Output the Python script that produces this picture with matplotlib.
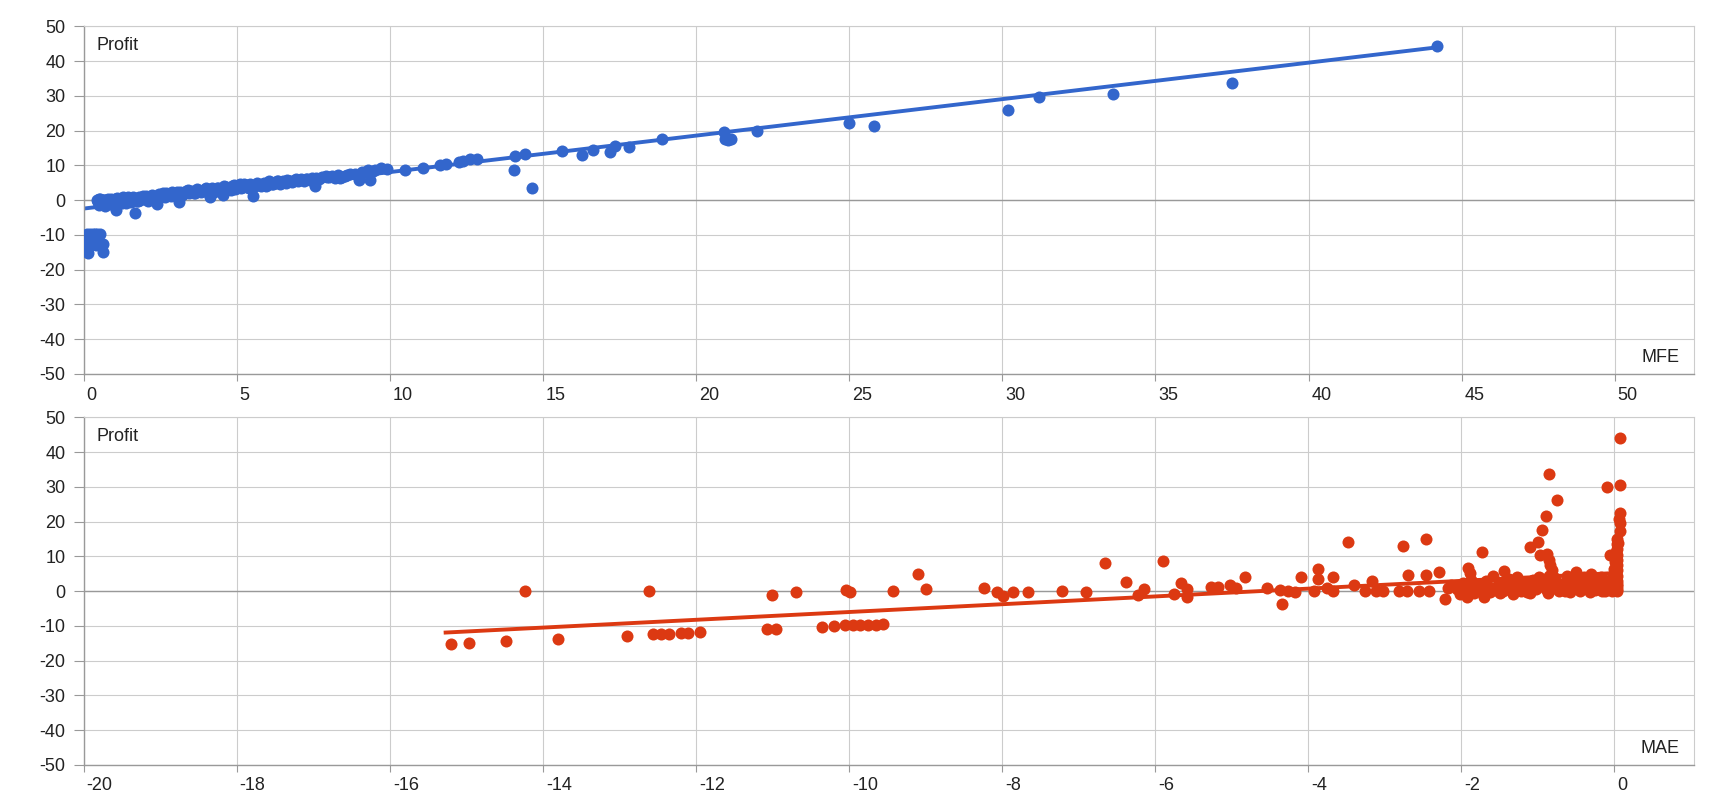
import matplotlib
matplotlib.use("Agg")
import matplotlib.pyplot as plt
from matplotlib import transforms

plt.rcParams['font.family'] = ['Liberation Sans', 'DejaVu Sans']
plt.rcParams['axes.unicode_minus'] = False

# MFE vs Profit (top chart)
mfe = [0.10, 0.10, 0.12, 0.10, 0.12, 0.15, 0.12, 0.15, 0.22, 0.30, 0.38, 0.45, 0.52, 0.25, 0.35,
       0.40, 0.55, 0.62, 0.65, 0.28,
       0.45, 0.48, 0.50, 0.52, 0.55, 0.60, 0.62, 0.65, 0.70, 0.72, 0.75, 0.80, 0.85, 0.88, 0.90,
       0.95, 1.00, 1.02, 1.05, 1.10, 1.15, 1.20, 1.25, 1.30, 1.35, 1.40, 1.45, 1.50, 1.55, 1.60,
       1.68, 1.70, 1.75, 1.80, 1.85, 1.90, 2.00, 2.05, 2.10, 2.20, 2.30, 2.39, 2.45, 2.50, 2.60,
       2.65, 2.70, 2.80, 2.90, 3.00, 3.12, 3.15, 3.25, 3.35, 3.45, 3.55, 3.65, 3.75, 3.85, 3.95,
       4.05, 4.13, 4.20, 4.30, 4.40, 4.50, 4.56, 4.65, 4.75, 4.85, 4.95, 5.05, 5.15, 5.25, 5.35,
       5.45, 5.53, 5.60, 5.70, 5.80, 5.90, 6.00, 6.10, 6.20, 6.30, 6.40, 6.50, 6.60, 6.70, 6.80,
       6.90, 7.00, 7.10, 7.20, 7.30, 7.40, 7.57, 7.60, 7.80, 7.95, 8.10, 8.20, 8.38, 8.55, 8.70,
       9.00, 9.10, 9.30, 9.36, 9.50, 9.70, 9.90, 10.48, 11.07, 11.65, 11.84, 12.25, 12.40, 12.63,
       12.85, 14.05, 14.10, 14.43, 14.65, 15.63, 16.28, 16.64, 17.20, 17.35, 17.80, 18.90, 20.90,
       20.95, 21.05, 21.15, 22.00, 25.00, 25.80, 30.20, 31.20, 33.60, 37.50, 44.20]
mfe_profit = [-9.6, -10.4, -11.2, -12.0, -12.8, -13.6, -14.4, -15.1, -9.8, -9.6, -9.7, -9.8, -9.6, -11.0, -12.2,
              -13.0, -12.3, -12.6, -14.9, -10.2,
              0.2, -0.6, -1.4, 0.3, -0.3, -1.0, 0.2, -0.5, -1.6, 0.1, -0.8, 0.4, -1.2, -0.2, 0.5,
              -0.6, -1.3, 0.3, -2.8, 0.6, -0.4, 0.4, -0.9, 0.8, 0.0, -0.7, 0.9, 0.2, -0.5, 0.9,
              -3.8, 0.4, -0.3, 1.0, 0.2, 0.8, 0.4, 1.3, -0.2, 1.2, 0.4, -1.1, 1.8, 0.8, 2.0,
              1.0, 2.2, 1.5, 2.3, 1.2, -0.4, 2.5, 1.8, 2.6, 2.0, 2.8, 2.2, 3.0, 2.4, 3.2,
              2.6, 0.9, 3.4, 2.8, 3.6, 3.0, 1.5, 3.8, 3.3, 4.0, 3.2, 4.2, 3.6, 4.6, 3.8,
              4.8, 1.3, 4.0, 4.7, 4.2, 5.0, 4.4, 5.2, 4.6, 5.4, 4.8, 5.6, 5.0, 5.6, 5.2,
              5.9, 5.4, 6.0, 5.6, 6.1, 5.8, 4.0, 6.4, 6.8, 6.6, 6.9, 6.5, 6.3, 7.0, 7.6,
              5.7, 8.0, 8.6, 5.7, 8.8, 9.4, 8.9, 8.8, 9.2, 10.0, 10.5, 10.9, 11.4, 11.8,
              11.8, 8.6, 12.8, 13.3, 3.6, 14.2, 13.0, 14.5, 14.0, 15.5, 15.2, 17.6, 19.5,
              17.5, 17.3, 17.6, 20.0, 22.3, 21.5, 26.0, 29.8, 30.5, 33.8, 44.3]
# extra points filling the dense band at small MFE
mfe_band = [0.50, 0.58, 0.68, 0.78, 0.92, 1.08, 1.18, 1.28, 1.38, 1.48, 1.58, 1.78, 1.95, 2.15,
            2.25, 2.35, 2.55, 2.75, 2.85, 2.95, 3.05, 3.20, 3.30, 3.40, 3.50, 3.60, 3.70, 3.80,
            3.90, 4.00, 4.10, 4.25, 4.35, 4.45, 4.60, 4.70, 4.80, 4.90, 5.00, 5.10, 5.20, 5.30,
            5.40, 5.50, 5.65, 5.75, 5.85, 5.95, 6.05, 6.15, 6.25, 6.35, 6.45, 6.55, 6.65, 6.75,
            6.85, 6.95, 7.05, 7.25, 7.45, 7.70, 7.90, 8.00, 8.30, 8.45, 8.60, 8.85, 9.20, 9.45]
mfe_band_profit = [0.5, -1.0, 0.0, -0.4, -1.0, 0.2, -0.6, 0.1, 0.5, -0.2, 0.6, -0.1, 1.1, 0.5,
                   1.6, 1.0, 1.4, 1.8, 1.2, 2.0, 2.4, 1.6, 2.2, 2.9, 2.4, 2.0, 3.2, 2.6,
                   2.8, 3.4, 3.0, 2.4, 3.6, 3.3, 4.0, 3.6, 3.0, 4.3, 3.5, 4.6, 3.9, 4.4,
                   3.6, 4.2, 5.0, 4.4, 4.8, 4.2, 5.4, 4.8, 5.1, 5.6, 5.0, 5.3, 5.8, 5.4,
                   5.6, 6.1, 5.7, 6.2, 6.4, 6.2, 7.0, 6.7, 7.2, 6.8, 7.3, 7.5, 8.2, 8.5]
mfe_trend_x = [0.0, 44.2]
mfe_trend_y = [-2.4, 44.0]

# MAE vs Profit (bottom chart)
mae = [-15.20, -14.96, -14.48, -14.23, -13.80, -12.90, -12.61, -12.56, -12.45, -12.35, -12.20, -12.10,
       -11.95, -11.07, -10.95, -11.00, -10.69, -10.35, -10.20, -10.04, -9.99, -10.05, -9.95, -9.85,
       -9.75, -9.65, -9.55, -9.43, -9.10, -9.00,
       -8.23, -8.06, -7.99, -7.86, -7.66, -7.22, -6.90, -6.66, -6.38, -6.23, -6.14, -5.90, -5.76,
       -5.66, -5.59, -5.59, -5.27, -5.18, -5.02, -4.94, -4.82, -4.54, -4.37, -4.34, -4.26, -4.17,
       -4.09, -3.93, -3.87, -3.87, -3.76, -3.67, -3.67, -3.48, -3.40, -3.26, -3.17, -3.12, -3.02,
       -2.76, -2.82, -2.71, -2.70, -2.55, -2.42, -2.46, -2.46, -2.29, -2.21, -2.13, -2.05, -1.98,
       -1.91, -1.88, -1.92, -1.92, -1.85, -1.80, -1.73, -1.70, -1.64, -1.58, -1.55, -1.50, -1.47,
       -1.44, -1.40, -1.36, -1.30, -1.27, -1.22, -1.18, -1.12, -1.10, -1.10, -1.00, -0.95, -0.90,
       -0.85, -0.75, -0.97, -0.88, -0.86, -0.84, -0.82, -0.85, -0.80, -0.95, -0.90, -0.78, -0.70,
       -0.65, -0.60, -0.55, -0.50, -0.48, -0.45, -0.40, -0.35, -0.30, -0.25, -0.22, -0.18, -0.15,
       -0.12, -0.09, -0.06, -0.05, 0.07, 0.07, 0.07, 0.07, 0.07, 0.03, 0.04, 0.04, 0.04, 0.04,
       0.04, 0.04, 0.04, 0.04, 0.04, 0.04, 0.03, 0.03]
mae_profit = [-15.2, -14.8, -14.3, 0.2, -13.7, -12.9, 0.2, -12.4, -12.3, -12.2, -12.0, -11.9,
              -11.8, -10.9, -10.9, -1.0, -0.1, -10.2, -10.0, 0.3, -0.1, -9.7, -9.7, -9.7,
              -9.6, -9.6, -9.5, 0.1, 5.0, 0.7,
              0.9, -0.1, -1.5, -0.3, -0.3, 0.2, -0.1, 8.2, 2.6, -1.1, 0.6, 8.8, -0.8,
              2.3, 0.7, -1.7, 1.2, 1.3, 1.8, 0.8, 4.2, 0.8, 0.4, -3.7, 0.2, -0.3,
              4.0, 0.0, 6.3, 3.5, 0.8, 4.2, 0.0, 14.3, 1.8, 0.2, 2.8, 0.2, 0.0,
              13.1, 0.2, 0.2, 4.7, 0.0, 0.2, 15.1, 4.8, 5.5, -2.2, 1.7, 0.5, 2.5,
              6.6, 5.2, 1.2, -1.7, 0.0, 2.0, 11.2, -1.7, 1.2, 4.5, 0.3, -0.4, 2.2,
              5.8, 0.5, 1.2, 3.0, 4.0, 0.0, 1.2, 2.5, -0.4, 12.8, 14.2, 17.6, 21.5,
              33.7, 26.1, 10.4, 10.6, 9.0, 7.5, 6.0, 4.5, 3.0, 2.0, 0.5, 1.0, 2.2,
              0.0, 3.6, 1.2, 5.6, 2.4, 0.2, 4.0, 1.5, 5.0, 0.4, 2.8, 4.2, 1.0,
              0.0, 29.9, 10.4, 3.5, 44.2, 30.5, 22.4, 19.6, 17.2, 15.0, 13.5, 12.0, 10.5, 9.0,
              7.5, 6.0, 4.5, 3.0, 1.5, 0.0, 0.7, 2.2]
# extra points filling the dense cluster close to MAE = 0
mae_band = [-2.18, -2.10, -2.02, -1.95, -1.87, -1.83, -1.76, -1.68, -1.62, -1.52, -1.45, -1.38,
            -1.33, -1.25, -1.20, -1.14, -1.06, -1.02, -0.98, -0.92, -0.87, -0.82, -0.77, -0.72,
            -0.68, -0.62, -0.58, -0.52, -0.46, -0.42, -0.38, -0.32, -0.28, -0.20, -0.16, -0.10,
            -0.08, -0.03, 0.00, 0.01, 0.02, 0.05, 0.06, 0.02]
mae_band_profit = [0.8, 1.5, -0.8, 0.3, 3.2, -0.5, 0.9, 2.8, -0.2, 1.8, 0.2, 3.6,
                   -0.8, 1.5, 2.6, -0.3, 3.2, 0.6, 4.2, 1.4, -0.5, 2.2, 3.8, 0.2,
                   1.6, 4.5, -0.3, 2.0, 3.3, 0.9, 2.6, -0.2, 3.8, 1.9, 0.2, 3.0,
                   1.2, 0.0, 6.5, 8.3, 11.3, 14.0, 20.8, 5.3]
mae_trend_x = [-15.27, 0.07]
mae_trend_y = [-11.9, 5.3]

mfe_ticks = [0, 5, 10, 15, 20, 25, 30, 35, 40, 45, 50]
mae_ticks = [-20, -18, -16, -14, -12, -10, -8, -6, -4, -2, 0]
profit_ticks = [-50, -40, -30, -20, -10, 0, 10, 20, 30, 40, 50]

BLUE = '#3366cc'
RED = '#dc3912'

fig = plt.figure(figsize=(17.2, 8), dpi=100)
ax1 = fig.add_axes([0.0486, 0.5325, 0.9365, 0.4344])
ax2 = fig.add_axes([0.0486, 0.0438, 0.9365, 0.4344])


def style(ax, xticks, xlim, xname):
    ax.set_xlim(xlim)
    ax.set_ylim(-50, 50)
    ax.set_xticks(xticks)
    ax.set_yticks(profit_ticks)
    ax.set_axisbelow(True)
    ax.grid(True, color='#cccccc', linewidth=0.8)
    ax.axhline(0, color='#999999', linewidth=1.0, zorder=1)
    for s in ['top', 'right']:
        ax.spines[s].set_color('#cccccc')
        ax.spines[s].set_linewidth(0.8)
    for s in ['left', 'bottom']:
        ax.spines[s].set_color('#999999')
        ax.spines[s].set_linewidth(1.0)
    ax.tick_params(axis='both', colors='#999999', labelcolor='#222222',
                   labelsize=13, width=0.8)
    ax.tick_params(axis='y', length=7, pad=6)
    ax.tick_params(axis='x', length=5, pad=4)
    shift = transforms.ScaledTranslation(3 / 100, 0, fig.dpi_scale_trans)
    for lab in ax.get_xticklabels():
        lab.set_horizontalalignment('left')
        lab.set_transform(lab.get_transform() + shift)
    ax.annotate('Profit', xy=(0, 1), xycoords='axes fraction', xytext=(13, -24),
                textcoords='offset pixels', fontsize=13, color='#222222', va='baseline')
    ax.annotate(xname, xy=(1, 0), xycoords='axes fraction', xytext=(-15, 12),
                textcoords='offset pixels', fontsize=13, color='#222222',
                ha='right', va='baseline')


ax1.plot(mfe_trend_x, mfe_trend_y, color=BLUE, linewidth=2.8, zorder=2)
ax1.scatter(mfe + mfe_band, mfe_profit + mfe_band_profit, s=75, color=BLUE,
            linewidths=0, zorder=3)
style(ax1, mfe_ticks, (0, 52.6), 'MFE')

ax2.plot(mae_trend_x, mae_trend_y, color=RED, linewidth=2.8, zorder=2)
ax2.scatter(mae + mae_band, mae_profit + mae_band_profit, s=75, color=RED,
            linewidths=0, zorder=3)
style(ax2, mae_ticks, (-20, 1.045), 'MAE')

fig.savefig('out.png', dpi=100)
